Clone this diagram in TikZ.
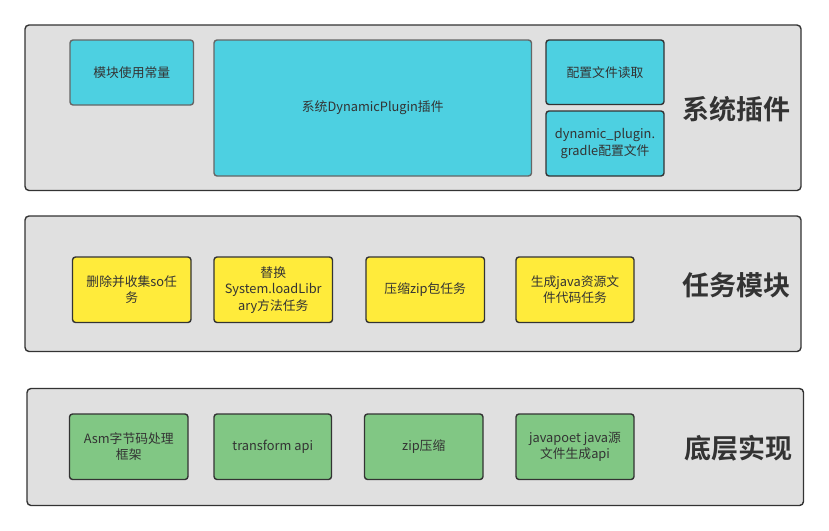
\documentclass[tikz,border=0pt]{standalone}
\usepackage{fontspec}
\setmainfont{Noto Sans CJK SC}
\newfontfamily\cjkbold{Noto Sans CJK SC Bold}
\definecolor{panelfill}{HTML}{E0E0E0}
\definecolor{panelline}{HTML}{333333}
\definecolor{cyanfill}{HTML}{4DD0E1}
\definecolor{yellowfill}{HTML}{FFEB3B}
\definecolor{greenfill}{HTML}{81C784}
\definecolor{txt}{HTML}{333333}
\begin{document}
\begin{tikzpicture}[x=1pt,y=-1pt,
  panel/.style={draw=panelline,fill=panelfill,line width=1.4pt,rounded corners=4pt},
  itembox/.style={draw=panelline,line width=1.4pt,rounded corners=3pt},
  cyanbox/.style={itembox,fill=cyanfill},
  cyanboxg/.style={itembox,fill=cyanfill,draw=black!60},
  ybox/.style={itembox,fill=yellowfill},
  gbox/.style={itembox,fill=greenfill},
  itemtext/.style={text=txt,font=\fontsize{12.8}{16.5}\selectfont,align=center},
  bigtext/.style={text=txt,font=\cjkbold\fontsize{27}{31}\selectfont,anchor=center}
]
\useasboundingbox (0,0) rectangle (829,530);
% panels
\draw[panel] (25,25) rectangle (801,190.5);
\draw[panel] (25,216) rectangle (801,351.5);
\draw[panel] (27,388.5) rectangle (803.5,505.5);
% row 1
\draw[cyanboxg] (70,40) rectangle (193.5,105);
\node[itemtext] (a1) at (131.75,72.5) {模块使用常量};
\draw[cyanboxg] (214,40) rectangle (531.5,176);
\node[itemtext] (a2) at (372.75,108) {系统DynamicPlugin插件};
\draw[cyanbox] (546,40) rectangle (664,104.5);
\node[itemtext] (a3) at (605,72.25) {配置文件读取};
\draw[cyanbox] (546,111) rectangle (664,176);
\node[itemtext] (a4) at (605,143.5) {dynamic\_plugin.\\gradle配置文件};
\node[bigtext] (l1) at (736,109) {系统插件};
% row 2
\draw[ybox] (72.5,257) rectangle (191,322.5);
\node[itemtext] (b1) at (131.75,289.75) {删除并收集so任\\务};
\draw[ybox] (214,257) rectangle (332.5,322.5);
\node[itemtext] (b2) at (273.25,289.75) {替换\\System.loadLibr\\ary方法任务};
\draw[ybox] (366,257) rectangle (484.5,322.5);
\node[itemtext] (b3) at (425.25,289.75) {压缩zip包任务};
\draw[ybox] (516,257) rectangle (634,322.5);
\node[itemtext] (b4) at (575,289.75) {生成java资源文\\件代码任务};
\node[bigtext] (l2) at (736,285.5) {任务模块};
% row 3
\draw[gbox] (69.5,414) rectangle (188,479.5);
\node[itemtext] (c1) at (128.75,446.75) {Asm字节码处理\\框架};
\draw[gbox] (214,414) rectangle (331.5,479.5);
\node[itemtext] (c2) at (272.75,446.75) {transform api};
\draw[gbox] (364.5,414) rectangle (483,479.5);
\node[itemtext] (c3) at (423.75,446.75) {zip压缩};
\draw[gbox] (516,414) rectangle (634,479.5);
\node[itemtext] (c4) at (575,446.75) {javapoet java源\\文件生成api};
\node[bigtext] (l3) at (738,448) {底层实现};
\end{tikzpicture}
\end{document}
